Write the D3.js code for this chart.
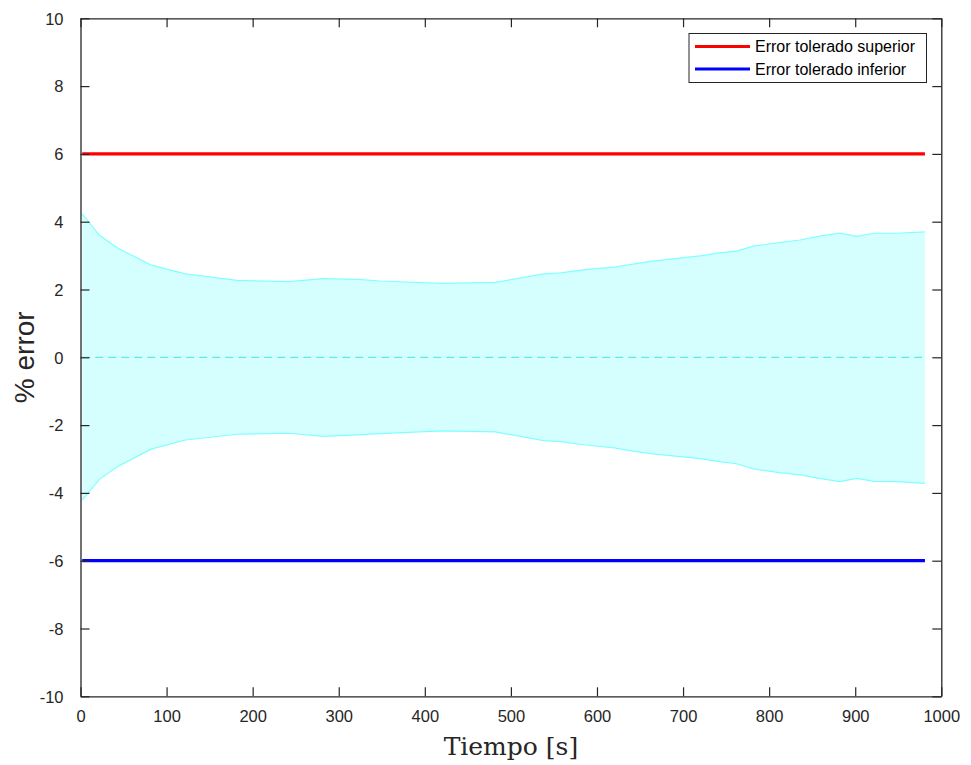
<!DOCTYPE html>
<html><head><meta charset="utf-8">
<script src="https://cdn.jsdelivr.net/npm/d3@7"></script>
<style>body{margin:0;background:#fff}svg{display:block}</style>
</head><body>
<script>
const times = [2, 22, 44, 82, 122, 182, 242, 282, 322, 348, 420, 482, 538, 558, 584, 620, 640, 662, 720, 742, 762, 782, 812, 836, 860, 882, 902, 922, 948, 981];
const upperBand = [4.23, 3.6, 3.21, 2.72, 2.46, 2.27, 2.23, 2.32, 2.30, 2.25, 2.18, 2.21, 2.46, 2.49, 2.58, 2.66, 2.74, 2.83, 2.99, 3.08, 3.13, 3.28, 3.38, 3.46, 3.58, 3.66, 3.57, 3.66, 3.66, 3.70];
const lowerBand = [-4.21, -3.6, -3.21, -2.71, -2.44, -2.27, -2.24, -2.33, -2.29, -2.25, -2.17, -2.20, -2.46, -2.49, -2.58, -2.67, -2.76, -2.84, -2.99, -3.08, -3.14, -3.29, -3.40, -3.47, -3.58, -3.67, -3.57, -3.66, -3.67, -3.72];
const limitSeries = [
  {name: "Error tolerado superior", value: 6, color: "#ff0000"},
  {name: "Error tolerado inferior", value: -6, color: "#0000ff"}
];
const xTicks = [0,100,200,300,400,500,600,700,800,900,1000];
const yTicks = [-10,-8,-6,-4,-2,0,2,4,6,8,10];
const xLabel = "Tiempo [s]";
const yLabel = "% error";

const W = 971, H = 765;
const L = 80.5, R = 941.3, T = 18.3, B = 696.3;
const svg = d3.select("body").append("svg").attr("width", W).attr("height", H);
const x = d3.scaleLinear().domain([0,1000]).range([L,R]);
const y = d3.scaleLinear().domain([-10,10]).range([B,T]);
const axisColor = "#262626";

const band = times.map((t,i)=>({t, hi: upperBand[i], lo: lowerBand[i]}));
svg.append("path").datum(band)
  .attr("d", d3.area().x(d=>x(d.t)).y0(d=>y(d.lo)).y1(d=>y(d.hi)))
  .attr("fill", "#d5ffff").attr("stroke", "none");
svg.append("path").datum(band)
  .attr("d", d3.line().x(d=>x(d.t)).y(d=>y(d.hi)))
  .attr("fill","none").attr("stroke","#80ffff").attr("stroke-width",1.2);
svg.append("path").datum(band)
  .attr("d", d3.line().x(d=>x(d.t)).y(d=>y(d.lo)))
  .attr("fill","none").attr("stroke","#80ffff").attr("stroke-width",1.2);
// mean line
svg.append("line")
  .attr("x1", x(times[0])).attr("x2", x(times[times.length-1]))
  .attr("y1", y(0)).attr("y2", y(0))
  .attr("stroke","#40e4e4").attr("stroke-width",1).attr("stroke-dasharray","8,5");

limitSeries.forEach(s=>{
  svg.append("line")
    .attr("x1", x(times[0])).attr("x2", x(times[times.length-1]))
    .attr("y1", y(s.value)).attr("y2", y(s.value))
    .attr("stroke", s.color).attr("stroke-width", 3.2);
});

// axes
const tickLen = 9;
const fmt = d => String(d);
const gx = svg.append("g").attr("transform",`translate(0,${B})`)
  .call(d3.axisBottom(x).tickValues(xTicks).tickSizeInner(-tickLen).tickSizeOuter(0).tickPadding(14).tickFormat(fmt));
const gxt = svg.append("g").attr("transform",`translate(0,${T})`)
  .call(d3.axisTop(x).tickValues(xTicks).tickSizeInner(-tickLen).tickSizeOuter(0).tickFormat(""));
const gy = svg.append("g").attr("transform",`translate(${L},0)`)
  .call(d3.axisLeft(y).tickValues(yTicks).tickSizeInner(-tickLen).tickSizeOuter(0).tickPadding(17).tickFormat(fmt));
const gyr = svg.append("g").attr("transform",`translate(${R},0)`)
  .call(d3.axisRight(y).tickValues(yTicks).tickSizeInner(-tickLen).tickSizeOuter(0).tickFormat(""));
[gx,gxt,gy,gyr].forEach(g=>{
  g.selectAll("path").attr("stroke", axisColor).attr("stroke-width",1.3);
  g.selectAll("line").attr("stroke", axisColor).attr("stroke-width",1.2);
  g.selectAll("text").attr("fill", axisColor).style("font-family","'Liberation Sans', Arial, sans-serif").style("font-size","16.5px");
});
gy.selectAll("text").attr("dy","0.35em");

svg.append("text").attr("x", (L+R)/2).attr("y", 755).attr("text-anchor","middle")
  .style("font-family","'DejaVu Serif', 'Liberation Serif', serif").style("font-size","25px").attr("fill", axisColor)
  .text(xLabel);
svg.append("text").attr("transform",`translate(34,${(T+B)/2}) rotate(-90)`).attr("text-anchor","middle")
  .style("font-family","'Liberation Sans', Arial, sans-serif").style("font-size","28px").attr("fill", axisColor)
  .text(yLabel);

// legend
const lg = svg.append("g");
lg.append("rect").attr("x",689).attr("y",33.5).attr("width",237.5).attr("height",49)
  .attr("fill","#fff").attr("stroke","#262626").attr("stroke-width",1);
limitSeries.forEach((s,i)=>{
  const yy = 46.5 + i*22.5;
  lg.append("line").attr("x1",695).attr("x2",750).attr("y1",yy).attr("y2",yy)
    .attr("stroke", s.color).attr("stroke-width",3.2);
  lg.append("text").attr("x",755).attr("y",yy).attr("dy","0.35em")
    .style("font-family","'Liberation Sans', Arial, sans-serif").style("font-size","16px").attr("fill","#000")
    .text(s.name);
});
</script>
</body></html>
